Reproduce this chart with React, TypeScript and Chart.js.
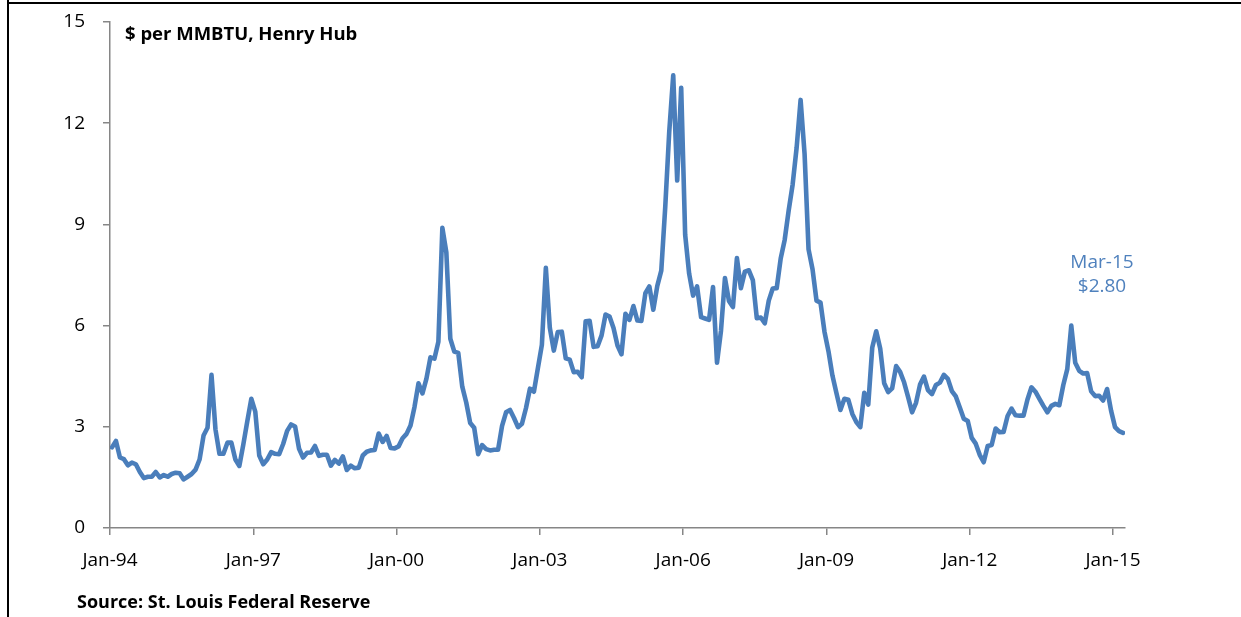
import React, { useEffect, useRef } from "react";
import { Chart, registerables } from "chart.js";

Chart.register(...registerables);

// Monthly Henry Hub spot price, $ per MMBTU, Jan 1994 - Mar 2015
const prices1994to1996 = [
  2.39, 2.58, 2.09, 2.04, 1.86, 1.94, 1.89, 1.66, 1.48, 1.52, 1.52, 1.66,
  1.5, 1.57, 1.52, 1.6, 1.64, 1.62, 1.44, 1.52, 1.6, 1.73, 2.03, 2.74,
  2.97, 4.54, 2.92, 2.2, 2.2, 2.53, 2.53, 2.03, 1.84, 2.48, 3.17, 3.83,
];
const prices1997to1999 = [
  3.45, 2.15, 1.89, 2.03, 2.25, 2.2, 2.19, 2.49, 2.88, 3.07, 3.01, 2.35,
  2.09, 2.23, 2.24, 2.43, 2.14, 2.17, 2.17, 1.85, 2.02, 1.91, 2.12, 1.72,
  1.85, 1.77, 1.79, 2.15, 2.26, 2.3, 2.31, 2.8, 2.55, 2.73, 2.37, 2.36,
];
const prices2000to2002 = [
  2.42, 2.66, 2.79, 3.04, 3.59, 4.29, 3.99, 4.43, 5.06, 5.02, 5.52, 8.9,
  8.17, 5.61, 5.23, 5.19, 4.19, 3.72, 3.11, 2.97, 2.19, 2.46, 2.34, 2.3,
  2.32, 2.32, 3.03, 3.43, 3.5, 3.26, 2.99, 3.09, 3.55, 4.13, 4.04, 4.74,
];
const prices2003to2005 = [
  5.43, 7.71, 5.93, 5.26, 5.81, 5.82, 5.03, 4.99, 4.62, 4.63, 4.47, 6.13,
  6.14, 5.37, 5.39, 5.71, 6.33, 6.27, 5.93, 5.41, 5.15, 6.35, 6.17, 6.58,
  6.15, 6.14, 6.96, 7.16, 6.47, 7.18, 7.63, 9.53, 11.75, 13.42, 10.3, 13.05,
];
const prices2006to2008 = [
  8.69, 7.54, 6.89, 7.16, 6.25, 6.21, 6.17, 7.14, 4.9, 5.85, 7.41, 6.73,
  6.55, 8.0, 7.11, 7.6, 7.64, 7.35, 6.22, 6.24, 6.07, 6.74, 7.1, 7.11,
  7.99, 8.54, 9.41, 10.18, 11.27, 12.69, 11.09, 8.26, 7.67, 6.74, 6.68, 5.82,
];
const prices2009to2011 = [
  5.24, 4.52, 4.0, 3.5, 3.83, 3.8, 3.38, 3.14, 2.99, 4.01, 3.66, 5.35,
  5.83, 5.32, 4.29, 4.03, 4.14, 4.8, 4.63, 4.32, 3.89, 3.43, 3.71, 4.25,
  4.49, 4.09, 3.97, 4.24, 4.31, 4.54, 4.42, 4.06, 3.9, 3.57, 3.24, 3.17,
];
const prices2012to2015 = [
  2.67, 2.5, 2.17, 1.95, 2.43, 2.46, 2.95, 2.84, 2.85, 3.32, 3.54, 3.34,
  3.33, 3.33, 3.81, 4.17, 4.04, 3.83, 3.62, 3.43, 3.62, 3.68, 3.64, 4.24,
  4.71, 6.0, 4.9, 4.66, 4.58, 4.59, 4.05, 3.91, 3.92, 3.78, 4.12, 3.48,
  2.99, 2.87, 2.82,
];
const prices = [
  ...prices1994to1996,
  ...prices1997to1999,
  ...prices2000to2002,
  ...prices2003to2005,
  ...prices2006to2008,
  ...prices2009to2011,
  ...prices2012to2015,
];

const xTickMonths = [0, 36, 72, 108, 144, 180, 216, 252];
const xTickLabels = ["Jan-94", "Jan-97", "Jan-00", "Jan-03", "Jan-06", "Jan-09", "Jan-12", "Jan-15"];
const yTickValues = [0, 3, 6, 9, 12, 15];
const totalMonths = 255;

const FONT = "'Open Sans', sans-serif";
const LINE_COLOR = "#4A7EBB";
const AXIS_COLOR = "#868686";

export default function App() {
  const canvasRef = useRef<HTMLCanvasElement | null>(null);

  useEffect(() => {
    if (!canvasRef.current) return;
    const chart = new Chart(canvasRef.current, {
      type: "line",
      data: {
        datasets: [
          {
            data: prices.map((v, i) => ({ x: i + 0.5, y: v })),
            borderColor: LINE_COLOR,
            borderWidth: 4.6,
            pointRadius: 0,
            tension: 0,
            fill: false,
            borderJoinStyle: "round",
            borderCapStyle: "round",
          },
        ],
      },
      options: {
        animation: false,
        responsive: false,
        maintainAspectRatio: false,
        layout: { padding: { left: 0, top: 22, right: 116, bottom: 0 } },
        plugins: { legend: { display: false }, tooltip: { enabled: false } },
        scales: {
          x: {
            type: "linear",
            min: 0,
            max: totalMonths,
            afterBuildTicks: (s: any) => {
              s.ticks = xTickMonths.map((v) => ({ value: v }));
            },
            afterFit: (s: any) => {
              s.height = 89;
            },
            ticks: {
              autoSkip: false,
              maxRotation: 0,
              padding: 14,
              color: "#000",
              font: { family: FONT, size: 19 },
              callback: (v: any) => {
                const i = xTickMonths.indexOf(Number(v));
                return i >= 0 ? xTickLabels[i] : "";
              },
            },
            grid: {
              drawOnChartArea: false,
              drawTicks: true,
              tickLength: 7,
              color: AXIS_COLOR,
              lineWidth: 1.5,
            },
            border: { display: true, color: AXIS_COLOR, width: 1.5 },
          },
          y: {
            type: "linear",
            min: 0,
            max: 15,
            afterBuildTicks: (s: any) => {
              s.ticks = yTickValues.map((v) => ({ value: v }));
            },
            afterFit: (s: any) => {
              s.width = 110;
              s.paddingTop = 0;
              s.paddingBottom = 0;
            },
            ticks: {
              padding: 18,
              color: "#000",
              font: { family: FONT, size: 19 },
            },
            grid: {
              drawOnChartArea: false,
              drawTicks: true,
              tickLength: 7,
              color: AXIS_COLOR,
              lineWidth: 1.5,
            },
            border: { display: true, color: AXIS_COLOR, width: 1.5 },
          },
        },
      },
    });
    return () => chart.destroy();
  }, []);

  return (
    <div
      style={{
        position: "absolute",
        left: 0,
        top: 0,
        width: 1241,
        height: 617,
        background: "#fff",
        overflow: "hidden",
        fontFamily: FONT,
      }}
    >
      <canvas ref={canvasRef} width={1241} height={617} style={{ position: "absolute", left: 0, top: 0 }} />
      <div style={{ position: "absolute", left: 7, top: 0, width: 2, height: 617, background: "#000" }} />
      <div style={{ position: "absolute", left: 7, top: 2, width: 1234, height: 2, background: "#000" }} />
      <div
        style={{
          position: "absolute",
          left: 125,
          top: 20,
          fontSize: 18.5,
          fontWeight: 700,
          color: "#000",
          whiteSpace: "nowrap",
          lineHeight: "26px",
        }}
      >
        $ per MMBTU, Henry Hub
      </div>
      <div
        style={{
          position: "absolute",
          left: 1042,
          width: 120,
          top: 249,
          fontSize: 19,
          color: "#4F81BD",
          textAlign: "center",
          lineHeight: "24px",
          whiteSpace: "nowrap",
        }}
      >
        Mar-15
        <br />
        $2.80
      </div>
      <div
        style={{
          position: "absolute",
          left: 77,
          top: 588,
          fontSize: 18,
          fontWeight: 700,
          color: "#000",
          whiteSpace: "nowrap",
          lineHeight: "26px",
        }}
      >
        Source: St. Louis Federal Reserve
      </div>
    </div>
  );
}
